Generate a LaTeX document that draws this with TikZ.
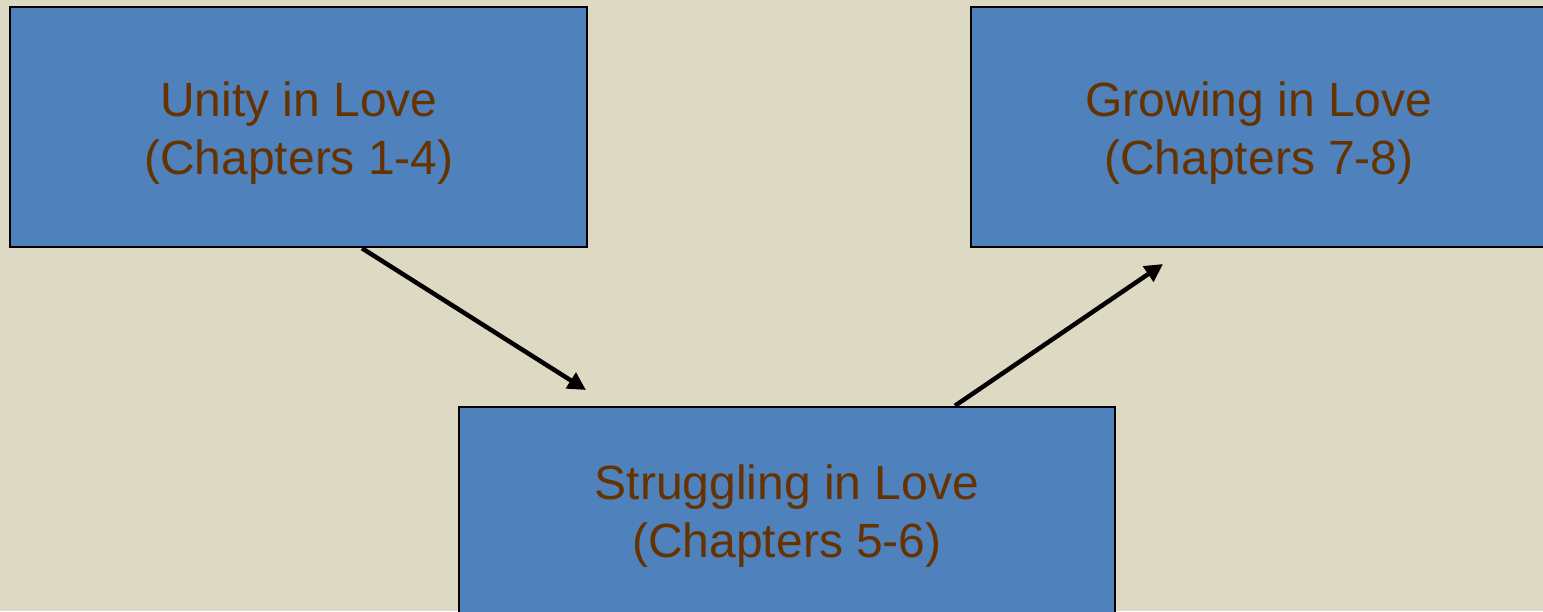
\documentclass[tikz,border=0pt]{standalone}
\usepackage{fontspec}
\setmainfont{Liberation Sans}
\usetikzlibrary{arrows.meta}
\definecolor{bgc}{HTML}{DDD9C3}
\definecolor{boxc}{HTML}{4F81BD}
\definecolor{txtc}{HTML}{663300}
\tikzset{
  chapbox/.style={draw=black, line width=2.5pt, fill=boxc, rectangle, inner sep=0pt},
  chaptxt/.style={text=txtc, align=center, inner sep=0pt, font=\fontsize{48}{58}\selectfont},
  flowarrow/.style={draw=black, line width=4.5pt, -{Triangle[length=18pt,width=18pt]}}
}
\begin{document}
\begin{tikzpicture}[x=1pt,y=-1pt]
\useasboundingbox (0,0) rectangle (1543,611);
\fill[bgc] (0,0) rectangle (1543,611);
\clip (0,0) rectangle (1543,611);
\node[chapbox, minimum width=577pt, minimum height=240pt] (u) at (298.5,127) {};
\node[chapbox, minimum width=577pt, minimum height=240pt] (g) at (1259.5,127) {};
\node[chapbox, minimum width=656pt, minimum height=240pt] (s) at (787,527) {};
\node[chaptxt] (ut) at (299,133) {Unity in Love\\(Chapters 1-4)};
\node[chaptxt] (gt) at (1259,133) {Growing in Love\\(Chapters 7-8)};
\node[chaptxt] (st) at (787,516) {Struggling in Love\\(Chapters 5-6)};
\coordinate (t1) at (586,390);
\coordinate (t2) at (1163,264);
\draw[flowarrow] ([xshift=63.5pt]u.south) -- (t1);
\draw[flowarrow] ([xshift=168pt]s.north) -- (t2);
\end{tikzpicture}
\end{document}
